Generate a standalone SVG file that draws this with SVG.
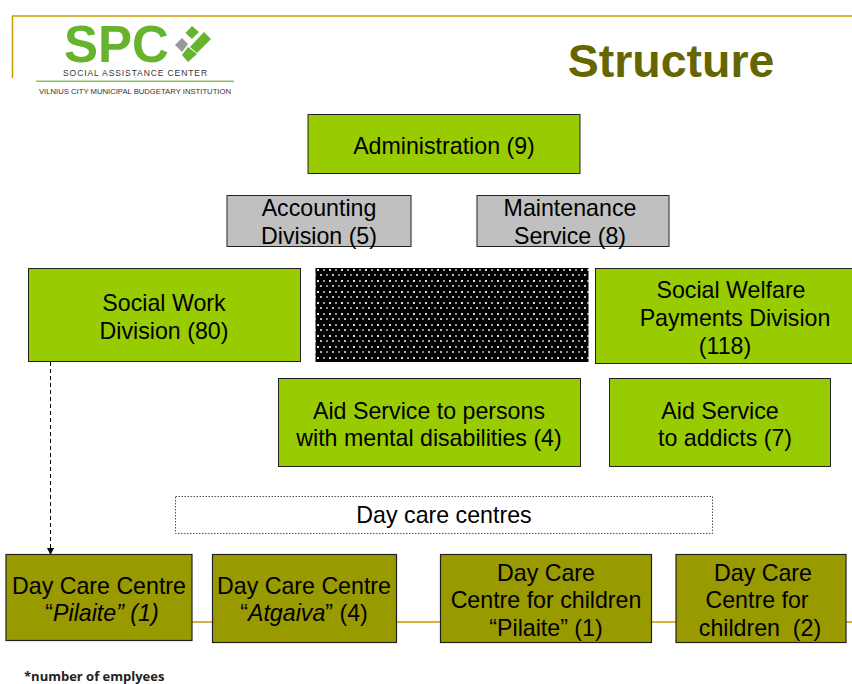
<svg xmlns="http://www.w3.org/2000/svg" width="852" height="684" viewBox="0 0 852 684">
<style>
text{font-family:"Liberation Sans",Arial,sans-serif;fill:#000;text-anchor:middle}
.t{font-size:23.200px}
.g{fill:#99cc00;stroke:#222;stroke-width:1}
.s{fill:#c0c0c0;stroke:#222;stroke-width:1}
.o{fill:#999900;stroke:#222;stroke-width:1.2}
.i{font-style:italic}
.lg{fill:#66b32e}
</style>
<defs>
<pattern id="dots" width="12" height="11" patternUnits="userSpaceOnUse" x="316" y="268">
<rect width="12" height="11" fill="#000"/>
<rect x="1" y="1" width="2" height="2" fill="#ddd"/>
<rect x="7" y="1" width="2" height="2" fill="#999"/>
<rect x="4" y="6" width="2" height="2" fill="#bbb"/>
<rect x="10" y="6" width="2" height="2" fill="#888"/>
</pattern>
<marker id="ah" markerWidth="7" markerHeight="7" refX="6" refY="3.500" orient="auto" markerUnits="userSpaceOnUse"><path d="M0 0L7 3.500L0 7Z" fill="#000"/></marker>
</defs>
<g id="frame" fill="none" stroke="#cc9900" stroke-width="1.500">
<path d="M852 16H12.500V78"/>
</g>
<g id="logo">
<text class="lg" x="116.500" y="62" style="font-size:51px;font-weight:bold;fill:#66b32e">SPC</text>
<polygon class="lg" points="192,26 199,32 192,39 185.500,33"/>
<polygon class="lg" points="204,32 211,39 197,53 190,47"/>
<polygon class="lg" points="188,47 197,54 188,62 182,55"/>
<polygon points="182,38 188,44 182,52 175,45" fill="#999"/>
<text x="135.500" y="76" style="font-size:8.500px;letter-spacing:0.900px;fill:#333">SOCIAL ASSISTANCE CENTER</text>
<rect x="36" y="80.500" width="198" height="1.500" fill="#8cc264"/>
<text x="135" y="94" style="font-size:7.700px;fill:#333">VILNIUS CITY MUNICIPAL BUDGETARY INSTITUTION</text>
</g>
<text id="title" x="671" y="77" style="font-size:46.500px;font-weight:bold;fill:#666600">Structure</text>
<g id="connectors">
<path d="M192 622H212M397 622H440M652 622H676M846 622H852" stroke="#cc9900" stroke-width="1.500" fill="none"/>
<path d="M50.500 362V554" stroke="#000" stroke-width="1" stroke-dasharray="4 3" fill="none" marker-end="url(#ah)"/>
</g>
<g id="administration"><rect class="g" x="308" y="114.500" width="272" height="59"/><text class="t" x="444" y="153.500">Administration (9)</text></g>
<g id="accounting"><rect class="s" x="227" y="195.500" width="184" height="51"/><text class="t" x="319" y="216">Accounting</text><text class="t" x="319" y="244">Division (5)</text></g>
<g id="maintenance"><rect class="s" x="477" y="195.500" width="192" height="51"/><text class="t" x="570" y="216">Maintenance</text><text class="t" x="570" y="244">Service (8)</text></g>
<g id="social-work"><rect class="g" x="28.500" y="268.500" width="272" height="93"/><text class="t" x="164" y="310.500">Social Work</text><text class="t" x="164" y="338.500">Division (80)</text></g>
<g id="hidden-box"><rect x="315.500" y="268" width="273" height="94" fill="url(#dots)"/></g>
<g id="welfare"><rect class="g" x="595.500" y="268.500" width="260" height="95"/><text class="t" x="731" y="297.500">Social Welfare</text><text class="t" x="735" y="325.500">Payments Division</text><text class="t" x="725" y="353.500">(118)</text></g>
<g id="aid-mental"><rect class="g" x="278.500" y="378.500" width="302" height="88"/><text class="t" x="429" y="418.500">Aid Service to persons</text><text class="t" x="429" y="445.500">with mental disabilities (4)</text></g>
<g id="aid-addicts"><rect class="g" x="609.500" y="378.500" width="221" height="88"/><text class="t" x="720" y="418.500">Aid Service</text><text class="t" x="725" y="445.500">to addicts (7)</text></g>
<g id="day-care-centres"><rect x="175.500" y="496.500" width="537" height="37" fill="#fff" stroke="#555" stroke-width="1" stroke-dasharray="1.500 1.500"/><text class="t" x="444" y="523">Day care centres</text></g>
<g id="dc-1"><rect class="o" x="6" y="554.500" width="186" height="86"/><text class="t" x="99" y="593.500">Day Care Centre</text><text class="t" x="102" y="620.500">“<tspan class="i">Pilaite” (1)</tspan></text></g>
<g id="dc-2"><rect class="o" x="212.500" y="554.500" width="184" height="88"/><text class="t" x="304" y="593.500">Day Care Centre</text><text class="t" x="304" y="620.500">“<tspan class="i">Atgaiva</tspan>” (4)</text></g>
<g id="dc-3"><rect class="o" x="440.500" y="554.500" width="211" height="88"/><text class="t" x="546" y="580.500">Day Care</text><text class="t" x="546" y="607.500">Centre for children</text><text class="t" x="546" y="635.500">“Pilaite” (1)</text></g>
<g id="dc-4"><rect class="o" x="676" y="554.500" width="170" height="88"/><text class="t" x="763" y="580.500">Day Care</text><text class="t" x="757" y="607.500">Centre for</text><text class="t" x="760" y="635.500" xml:space="preserve">children  (2)</text></g>
<text id="note" x="24" y="681" style="font-size:13px;font-weight:bold;text-anchor:start;font-family:'Open Sans','Liberation Sans',sans-serif;fill:#222">*number of emplyees</text>
</svg>
